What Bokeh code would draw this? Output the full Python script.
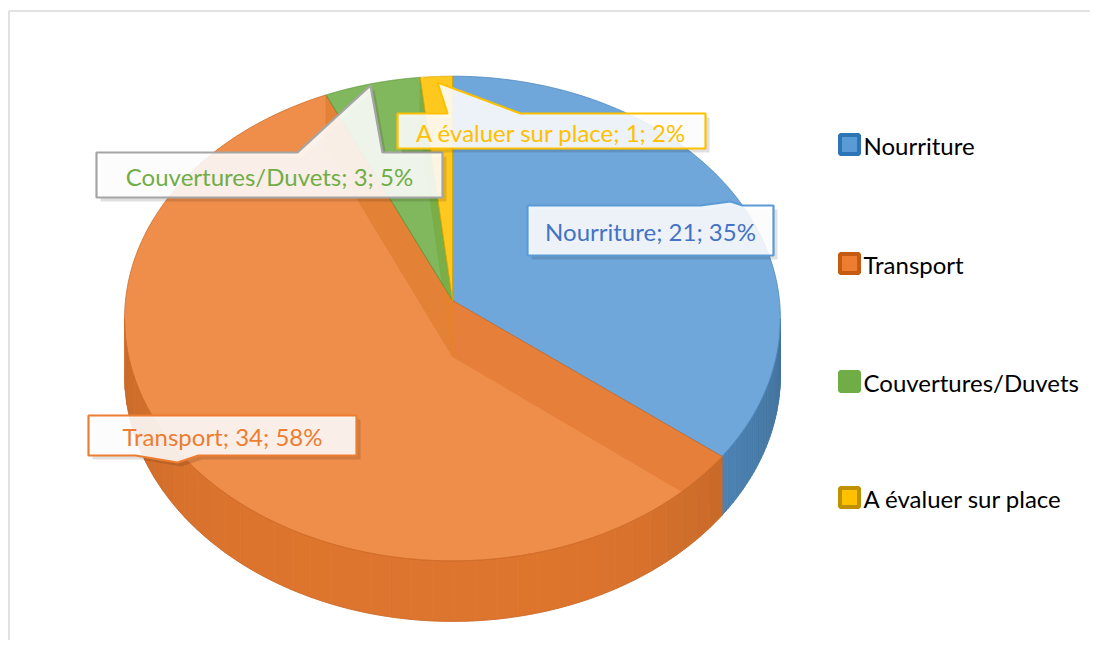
import numpy as np
from bokeh.plotting import figure
from bokeh.models import Range1d
from bokeh.core.properties import value
from bokeh.embed import file_html
from bokeh.resources import INLINE

# ---- data ----
categories = ["Nourriture", "Transport", "Couvertures/Duvets", "A évaluer sur place"]
values = [21, 34, 3, 1]
percent_labels = ["35%", "58%", "5%", "2%"]

# ---- styles ----
colors = ["#5B9BD5", "#ED7D31", "#70AD47", "#FFC000"]
label_text_colors = ["#4472C4", "#ED7D31", "#70AD47", "#FFC000"]
label_border_colors = ["#5B9BD5", "#ED7D31", "#A5A5A5", "#FFC000"]
legend_borders = ["#2E75B6", "#C55A11", "#70AD47", "#BF9000"]
FONT = "Lato"

W, H = 1090, 640
p = figure(width=W, height=H, output_backend="svg", toolbar_location=None,
           x_range=Range1d(0, W), y_range=Range1d(H, 0),
           min_border=0, outline_line_color=None)
p.axis.visible = False
p.grid.visible = False
p.background_fill_color = "white"

# chart frame (only top/left visible in the crop)
p.segment(x0=[8.5, 8.5], y0=[10.5, 10.5], x1=[8.5, 1100], y1=[646, 10.5],
          line_color="#D9D9D9", line_width=1.5)

# ---- 3D pie geometry ----
cx, cy = 452.0, 300.0
A, B, k, D = 327.0, 241.0, 0.0744, 56.0


def P(theta, h=0.0):
    t = np.radians(theta)
    X, Z = np.sin(t), np.cos(t)
    s = 1.0 / (1.0 + k * Z)
    return cx + A * X * s, cy - B * Z * s + D * h * s


def darker(c, f):
    c = c.lstrip("#")
    r, g, b = (int(c[i:i + 2], 16) for i in (0, 2, 4))
    return "#%02x%02x%02x" % (int(r * f), int(g * f), int(b * f))


total = float(sum(values))
angles = np.cumsum([0] + [v / total * 360.0 for v in values])

# 1) radial inner walls
for i in range(len(values)):
    for th in (angles[i], angles[i + 1]):
        x0, y0 = P(th, 0)
        x1, y1 = P(th, 1)
        p.patch([cx, x0, x1, cx], [cy, y0, y1, cy + D],
                fill_color=darker(colors[i], 0.85), fill_alpha=0.55,
                line_color=darker(colors[i], 0.8), line_alpha=0.4, line_width=0.8)

# 2) outer side walls (front, visible part)
vis_lo = 90 + np.degrees(np.arcsin(k))
vis_hi = 270 - np.degrees(np.arcsin(k))
for i in range(len(values)):
    a0 = max(angles[i], vis_lo)
    a1 = min(angles[i + 1], vis_hi)
    if a1 <= a0:
        continue
    th = np.linspace(a0, a1, 120)
    xt, yt = P(th, 0)
    xb, yb = P(th[::-1], 1)
    n = 40
    edges = np.linspace(a0, a1, n + 1)
    for j in range(n):
        tt = np.linspace(edges[j], edges[j + 1], 6)
        xa, ya = P(tt, 0)
        xb2, yb2 = P(tt[::-1], 1)
        mid = np.radians((edges[j] + edges[j + 1]) / 2)
        shade = 0.94 - 0.2 * max(0.0, np.sin(mid)) ** 3 - 0.08 * max(0.0, -np.sin(mid)) ** 4
        col = darker(colors[i], shade)
        p.patch(list(xa) + list(xb2), list(ya) + list(yb2),
                fill_color=col, fill_alpha=1.0,
                line_color=col, line_alpha=1.0, line_width=0.8)
    p.line(list(xt), list(yt), line_color=darker(colors[i], 0.8), line_width=1, line_alpha=0.7)
    p.line(list(xb[::-1]), list(yb[::-1]), line_color=darker(colors[i], 0.8), line_width=1, line_alpha=0.5)

# 3) top faces
for i in range(len(values)):
    th = np.linspace(angles[i], angles[i + 1], 200)
    xs, ys = P(th, 0)
    p.patch([cx] + list(xs), [cy] + list(ys),
            fill_color=colors[i], fill_alpha=0.88,
            line_color=darker(colors[i], 0.88), line_width=1, line_alpha=0.8)

# ---- data labels (callouts) ----
boxes = [
    dict(x0=527, y0=205, x1=773, y1=255, ptr=[(700, 205), (730, 201), (742, 205)]),
    dict(x0=88, y0=415, x1=356, y1=455, ptr=[(135, 455), (177, 462), (198, 455)]),
    dict(x0=96, y0=152, x1=442, y1=197, ptr=[(297, 152), (370, 85), (382, 152)]),
    dict(x0=397, y0=113, x1=705, y1=148, ptr=[(447, 113), (437, 82), (520, 113)]),
]


def box_poly(b):
    x0, y0, x1, y1 = b["x0"], b["y0"], b["x1"], b["y1"]
    pa, tip, pb = b["ptr"]
    if pa[1] == y0:
        xs = [x0, pa[0], tip[0], pb[0], x1, x1, x0]
        ys = [y0, y0, tip[1], y0, y0, y1, y1]
    else:
        xs = [x0, x1, x1, pb[0], tip[0], pa[0], x0]
        ys = [y0, y0, y1, y1, tip[1], y1, y1]
    return xs, ys


for i, b in enumerate(boxes):
    xs, ys = box_poly(b)
    p.patch([x + 4 for x in xs], [y + 4 for y in ys], fill_color="#000000",
            fill_alpha=0.12, line_color=None)
    p.patch(xs, ys, fill_color="#FFFFFF", fill_alpha=0.88,
            line_color=label_border_colors[i], line_width=2.2)
    txt = "%s; %d; %s" % (categories[i], values[i], percent_labels[i])
    p.text(x=[(b["x0"] + b["x1"]) / 2], y=[(b["y0"] + b["y1"]) / 2 + 1], text=[txt],
           text_font=value(FONT), text_font_size="24px", text_color=label_text_colors[i],
           text_align="center", text_baseline="middle")

# ---- legend ----
leg_y = [144, 263, 381, 497]
for i, cat in enumerate(categories):
    p.rect(x=[849], y=[leg_y[i]], width=19, height=19,
           fill_color=colors[i], line_color=legend_borders[i], line_width=4)
    p.text(x=[863], y=[leg_y[i] + 1], text=[cat], text_font=value(FONT),
           text_font_size="24px", text_color="#000000",
           text_align="left", text_baseline="middle")

open("out.html", "w").write(file_html(p, INLINE))
